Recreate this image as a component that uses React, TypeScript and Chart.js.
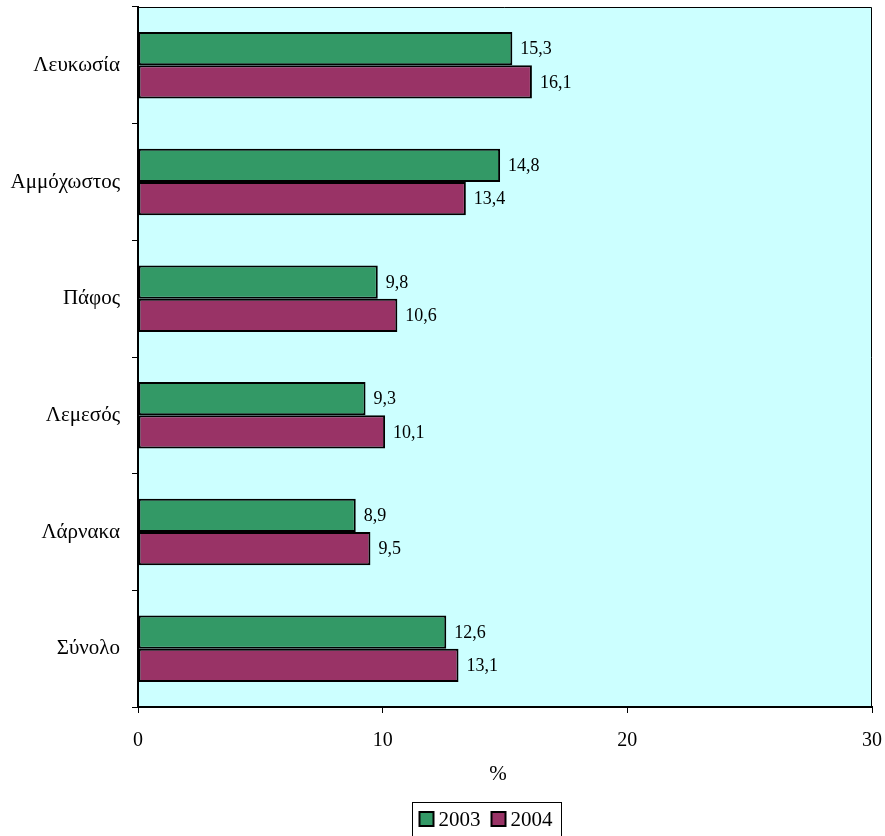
import React, { useEffect, useRef } from "react";
import { Chart, registerables } from "chart.js";

Chart.register(...registerables);

const categories = ["Λευκωσία", "Αμμόχωστος", "Πάφος", "Λεμεσός", "Λάρνακα", "Σύνολο"];
const values2003 = [15.3, 14.8, 9.8, 9.3, 8.9, 12.6];
const values2004 = [16.1, 13.4, 10.6, 10.1, 9.5, 13.1];
const seriesNames = ["2003", "2004"];
const xTicks = [0, 10, 20, 30];
const xTitle = "%";

const FONT = "'Liberation Serif', 'Times New Roman', serif";
const GREEN = "#339966";
const MAROON = "#993366";
const BG = "#CCFFFF";

const fmt = (v: number) => v.toFixed(1).replace(".", ",");

const decorPlugin = {
  id: "decor",
  beforeDraw(chart: any) {
    const { ctx, chartArea: a } = chart;
    ctx.save();
    ctx.fillStyle = BG;
    ctx.fillRect(a.left, a.top, a.right - a.left, a.bottom - a.top);
    ctx.restore();
  },
  afterDatasetsDraw(chart: any) {
    const { ctx } = chart;
    ctx.save();
    ctx.font = `18px ${FONT}`;
    ctx.fillStyle = "#000";
    ctx.textAlign = "left";
    ctx.textBaseline = "middle";
    chart.data.datasets.forEach((ds: any, di: number) => {
      const meta = chart.getDatasetMeta(di);
      meta.data.forEach((el: any, i: number) => {
        ctx.fillText(fmt(ds.data[i]), el.x + 8, el.y + 1);
      });
    });
    ctx.restore();
  },
  afterDraw(chart: any) {
    const { ctx, chartArea: a } = chart;
    ctx.save();
    ctx.strokeStyle = "#000";
    ctx.lineWidth = 1;
    ctx.beginPath();
    ctx.moveTo(a.left, a.top + 0.5);
    ctx.lineTo(a.right - 0.5, a.top + 0.5);
    ctx.lineTo(a.right - 0.5, a.bottom);
    ctx.stroke();
    // axis title
    ctx.fillStyle = "#000";
    ctx.font = `21px ${FONT}`;
    ctx.textAlign = "center";
    ctx.textBaseline = "middle";
    ctx.fillText(xTitle, 498, 774);
    // legend
    ctx.font = `21px ${FONT}`;
    const colors = [GREEN, MAROON];
    const sq = 14;
    const gapSq = 5;
    const gapItem = 11;
    const padL = 7;
    const padR = 9;
    const widths = seriesNames.map((n) => ctx.measureText(n).width);
    const total = padL + padR + widths.reduce((s, w) => s + sq + gapSq + w, 0) + gapItem * (seriesNames.length - 1);
    const boxX = 412.5;
    const boxY = 802.5;
    const boxH = 40;
    ctx.lineWidth = 1;
    ctx.strokeStyle = "#000";
    ctx.strokeRect(boxX, boxY, total, boxH);
    let x = boxX + padL;
    const cy = 819;
    seriesNames.forEach((n, i) => {
      ctx.fillStyle = colors[i];
      ctx.fillRect(x, cy - sq / 2, sq, sq);
      ctx.lineWidth = 2;
      ctx.strokeRect(x, cy - sq / 2, sq, sq);
      x += sq + gapSq;
      ctx.fillStyle = "#000";
      ctx.textAlign = "left";
      ctx.fillText(n, x, cy + 1);
      x += widths[i] + gapItem;
    });
    ctx.restore();
  },
};

export default function App() {
  const ref = useRef<HTMLCanvasElement>(null);
  useEffect(() => {
    if (!ref.current) return;
    const chart = new Chart(ref.current, {
      type: "bar",
      data: {
        labels: categories,
        datasets: [
          {
            label: seriesNames[0],
            data: values2003,
            backgroundColor: GREEN,
            borderColor: "#000",
            borderWidth: 2,
            borderSkipped: false,
            categoryPercentage: 0.57,
            barPercentage: 1,
          },
          {
            label: seriesNames[1],
            data: values2004,
            backgroundColor: MAROON,
            borderColor: "#000",
            borderWidth: 2,
            borderSkipped: false,
            categoryPercentage: 0.57,
            barPercentage: 1,
          },
        ],
      },
      options: {
        indexAxis: "y",
        responsive: false,
        animation: false,
        layout: { padding: { top: 7, right: 13, left: 0, bottom: 0 } },
        plugins: { legend: { display: false }, tooltip: { enabled: false } },
        scales: {
          x: {
            type: "linear",
            min: xTicks[0],
            max: xTicks[xTicks.length - 1],
            afterBuildTicks: (scale: any) => {
              scale.ticks = xTicks.map((v) => ({ value: v }));
            },
            afterFit: (scale: any) => {
              scale.height = 129;
              scale.paddingLeft = 0;
              scale.paddingRight = 0;
            },
            ticks: { color: "#000", font: { family: FONT, size: 20 }, padding: 16 },
            grid: { drawOnChartArea: false, drawTicks: true, tickLength: 6, color: "#000", lineWidth: 1 },
            border: { color: "#000", width: 2 },
          },
          y: {
            type: "category",
            afterFit: (scale: any) => {
              scale.width = 138;
              scale.paddingTop = 0;
              scale.paddingBottom = 0;
            },
            ticks: { color: "#000", font: { family: FONT, size: 21 }, padding: 12 },
            grid: { offset: true, drawOnChartArea: false, drawTicks: true, tickLength: 6, color: "#000", lineWidth: 1 },
            border: { color: "#000", width: 2 },
          },
        },
      },
      plugins: [decorPlugin],
    } as any);
    return () => chart.destroy();
  }, []);
  return (
    <div style={{ position: "fixed", left: 0, top: 0, width: 885, height: 836, background: "#fff" }}>
      <canvas ref={ref} width={885} height={836} style={{ display: "block" }} />
    </div>
  );
}
